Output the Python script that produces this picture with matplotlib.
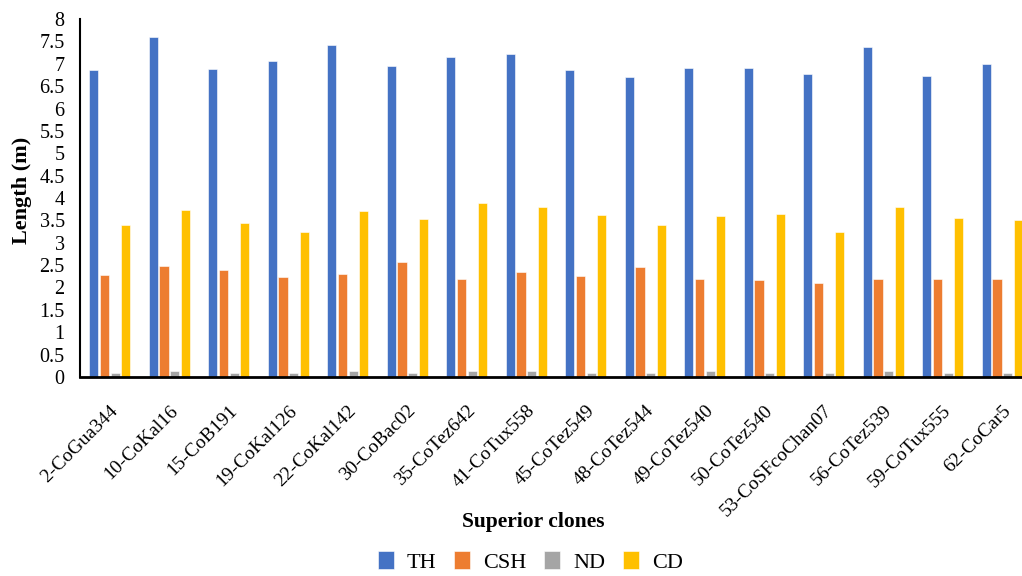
import numpy as np
import matplotlib.pyplot as plt

# data klon unggul
clones = ["2-CoGua344", "10-CoKal16", "15-CoB191", "19-CoKal126", "22-CoKal142",
          "30-CoBac02", "35-CoTez642", "41-CoTux558", "45-CoTez549", "48-CoTez544",
          "49-CoTez540", "50-CoTez540", "53-CoSFcoChan07", "56-CoTez539",
          "59-CoTux555", "62-CoCar5"]
th = [6.86, 7.59, 6.89, 7.07, 7.43, 6.96, 7.16, 7.21, 6.86, 6.70,
      6.90, 6.90, 6.78, 7.38, 6.73, 6.99]
csh = [2.29, 2.49, 2.39, 2.24, 2.31, 2.57, 2.19, 2.34, 2.26, 2.46,
       2.19, 2.17, 2.11, 2.19, 2.19, 2.19]
nd = [0.10, 0.13, 0.10, 0.10, 0.13, 0.10, 0.13, 0.13, 0.10, 0.10,
      0.13, 0.10, 0.10, 0.13, 0.10, 0.10]
cd = [3.39, 3.74, 3.44, 3.23, 3.72, 3.52, 3.88, 3.80, 3.61, 3.39,
      3.59, 3.64, 3.23, 3.80, 3.56, 3.50]
series = ["TH", "CSH", "ND", "CD"]
colors = ["#4472C4", "#ED7D31", "#A5A5A5", "#FFC000"]

plt.rcParams['font.family'] = ['Liberation Serif', 'DejaVu Serif']

fig = plt.figure(figsize=(10.22, 5.76), dpi=100)
ax = fig.add_axes([0.0783, 0.3455, 0.9315, 0.6215])

x = np.arange(len(clones))
step = 0.18
width = 0.155
for i, (vals, name) in enumerate(zip([th, csh, nd, cd], series)):
    ax.bar(x + (i - 1.5) * step, vals, width, color=colors[i], label=name,
           edgecolor="white", linewidth=0.4)

ax.set_xlim(-0.5, len(clones) - 0.5)
ax.set_ylim(0, 8)
yt = np.arange(0, 8.01, 0.5)
ax.set_yticks(yt)
ax.set_yticklabels(["%g" % v for v in yt], fontsize=14.5)
ax.set_xticks(x)
ax.set_xticklabels(clones, rotation=45, ha="right", rotation_mode="anchor",
                   fontsize=14)
ax.tick_params(axis="y", length=0, pad=11)
ax.tick_params(axis="x", length=0, pad=18)

for s in ["top", "right"]:
    ax.spines[s].set_visible(False)
ax.spines["left"].set_linewidth(1.5)
ax.spines["bottom"].set_linewidth(2)

ax.set_ylabel("Length (m)", fontsize=16, fontweight="bold")
ax.yaxis.set_label_coords(-0.05, 0.52)
fig.text(0.5215, 0.094, "Superior clones", ha="center", va="center",
         fontsize=15.5, fontweight="bold")
fig.legend(loc="center", bbox_to_anchor=(0.519, 0.024), ncol=4, frameon=False,
           fontsize=16, handlelength=0.7, handleheight=0.85, columnspacing=0.8,
           handletextpad=0.6, borderpad=0.1)

fig.savefig("out.png", dpi=100)
